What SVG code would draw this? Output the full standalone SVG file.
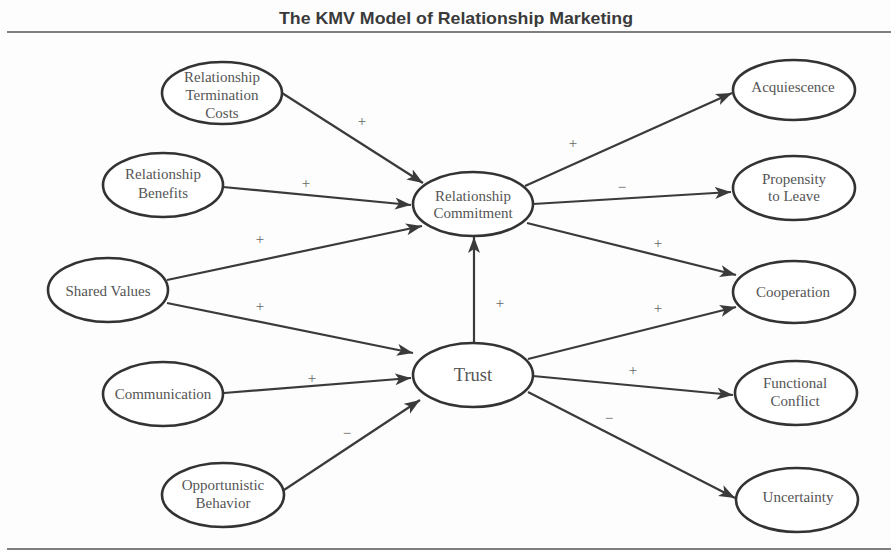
<svg xmlns="http://www.w3.org/2000/svg" width="891" height="552" viewBox="0 0 891 552">
<style>
.bg{fill:#fdfdfd}
.node ellipse{fill:#ffffff;stroke:#333;stroke-width:2.6}
.node text{font-family:"Liberation Serif","Times New Roman",serif;font-size:15px;fill:#555;text-anchor:middle}
.big{font-size:18.5px !important}
.title{font-family:"Liberation Sans",Arial,sans-serif;font-weight:bold;font-size:16.5px;fill:#3a3a3a;text-anchor:middle}
.rule{stroke:#555;stroke-width:1.6}
#connectors line{stroke:#3a3a3a;stroke-width:2.2;marker-end:url(#arr)}
.sign{font-family:"Liberation Serif","Times New Roman",serif;font-size:15px;fill:#666;text-anchor:middle}
</style>
<defs>
<marker id="arr" markerUnits="userSpaceOnUse" markerWidth="18" markerHeight="14" refX="16" refY="6" orient="auto">
<path d="M0,0 L16,6 L0,12 L4,6 z" fill="#3a3a3a"/>
</marker>
</defs>
<rect class="bg" x="0" y="0" width="891" height="552"/>
<text class="title" x="456" y="24" textLength="354" lengthAdjust="spacingAndGlyphs">The KMV Model of Relationship Marketing</text>
<line class="rule" x1="7" y1="32" x2="891" y2="32"/>
<line class="rule" x1="7" y1="549" x2="891" y2="549"/>

<g id="connectors">
<line x1="282" y1="93" x2="423" y2="183"/>
<line x1="223" y1="187" x2="411" y2="205"/>
<line x1="167" y1="280" x2="422" y2="226"/>
<line x1="167" y1="303" x2="413" y2="353"/>
<line x1="224" y1="393" x2="411" y2="378"/>
<line x1="284" y1="490" x2="420" y2="400"/>
<line x1="474" y1="343" x2="474" y2="237"/>
<line x1="525" y1="186" x2="732" y2="93"/>
<line x1="533" y1="204" x2="731" y2="192"/>
<line x1="527" y1="223" x2="736" y2="275"/>
<line x1="528" y1="359" x2="736" y2="307"/>
<line x1="533" y1="376" x2="733" y2="395"/>
<line x1="528" y1="392" x2="735" y2="498"/>
</g>

<g id="signs">
<text class="sign" x="362" y="126">+</text>
<text class="sign" x="306" y="188">+</text>
<text class="sign" x="260" y="244">+</text>
<text class="sign" x="260" y="311">+</text>
<text class="sign" x="312" y="383">+</text>
<text class="sign" x="347" y="438">−</text>
<text class="sign" x="500" y="308">+</text>
<text class="sign" x="573" y="148">+</text>
<text class="sign" x="622" y="192">−</text>
<text class="sign" x="658" y="248">+</text>
<text class="sign" x="658" y="313">+</text>
<text class="sign" x="633" y="375">+</text>
<text class="sign" x="609" y="423">−</text>
</g>

<g id="termination-costs" class="node">
<ellipse cx="222" cy="93" rx="60" ry="31"/>
<text x="222" y="82">Relationship</text>
<text x="222" y="100">Termination</text>
<text x="222" y="118">Costs</text>
</g>
<g id="benefits" class="node">
<ellipse cx="163" cy="185" rx="60" ry="32"/>
<text x="163" y="179">Relationship</text>
<text x="163" y="198">Benefits</text>
</g>
<g id="shared-values" class="node">
<ellipse cx="108" cy="290" rx="60" ry="32"/>
<text x="108" y="296">Shared Values</text>
</g>
<g id="communication" class="node">
<ellipse cx="163" cy="394" rx="60" ry="32"/>
<text x="163" y="399">Communication</text>
</g>
<g id="opportunistic" class="node">
<ellipse cx="223" cy="495" rx="61" ry="32"/>
<text x="223" y="490">Opportunistic</text>
<text x="223" y="508">Behavior</text>
</g>
<g id="commitment" class="node">
<ellipse cx="473" cy="204" rx="60" ry="32"/>
<text x="473" y="201">Relationship</text>
<text x="473" y="218">Commitment</text>
</g>
<g id="trust" class="node">
<ellipse cx="473" cy="375" rx="60" ry="32"/>
<text class="big" x="473" y="381">Trust</text>
</g>
<g id="acquiescence" class="node">
<ellipse cx="794" cy="90" rx="61" ry="30"/>
<text x="793" y="92">Acquiescence</text>
</g>
<g id="propensity" class="node">
<ellipse cx="794" cy="188" rx="61" ry="32"/>
<text x="794" y="184">Propensity</text>
<text x="794" y="201">to Leave</text>
</g>
<g id="cooperation" class="node">
<ellipse cx="794" cy="292" rx="61" ry="31"/>
<text x="793" y="297">Cooperation</text>
</g>
<g id="functional-conflict" class="node">
<ellipse cx="796" cy="393" rx="61" ry="32"/>
<text x="795" y="388">Functional</text>
<text x="795" y="406">Conflict</text>
</g>
<g id="uncertainty" class="node">
<ellipse cx="797" cy="500" rx="61" ry="32"/>
<text x="798" y="502">Uncertainty</text>
</g>
</svg>
